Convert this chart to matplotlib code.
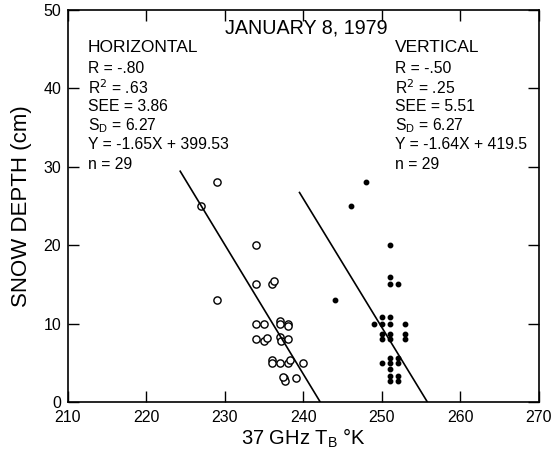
import matplotlib
matplotlib.use("Agg")
import matplotlib.pyplot as plt
import numpy as np

plt.rcParams['font.family'] = ['Liberation Sans', 'DejaVu Sans']

# horizontal polarization (open circles)
h_tb = [229, 227, 234, 234, 236, 236.3, 229,
        234, 235, 237, 237, 238, 238,
        234, 235, 235.3, 237, 237.2, 238,
        236, 236, 237, 238, 238.3, 240,
        237.5, 237.6, 239, 237.4]
h_depth = [28, 25, 20, 15, 15, 15.4, 13,
           10, 10, 10.3, 10, 10, 9.7,
           8, 7.8, 8.2, 8.3, 7.8, 8,
           5.3, 5, 5, 5, 5.3, 5,
           3, 2.7, 3, 3.2]

# vertical polarization (filled dots)
v_tb = [248, 246, 251, 251, 251, 252, 244,
        250, 251, 249, 250, 251, 253,
        250, 251, 253, 250, 251, 253,
        251, 252, 250, 251, 252, 251,
        251, 252, 251, 252]
v_depth = [28, 25, 20, 16, 15, 15, 13,
           10.8, 10.8, 10, 10, 10, 10,
           8.7, 8.7, 8.7, 8, 8, 8,
           5.6, 5.6, 5, 5, 5, 4.2,
           3.3, 3.3, 2.7, 2.7]

# regression fits: slope, intercept, x-range of the drawn line
h_fit = (-1.65, 399.53, 224.3, 242.14)
v_fit = (-1.64, 419.5, 239.5, 255.79)

h_stats = ["R = -.80", "R$^2$ = .63", "SEE = 3.86", "S$_\\mathregular{D}$ = 6.27",
           "Y = -1.65X + 399.53", "n = 29"]
v_stats = ["R = -.50", "R$^2$ = .25", "SEE = 5.51", "S$_\\mathregular{D}$ = 6.27",
           "Y = -1.64X + 419.5", "n = 29"]

fig = plt.figure(figsize=(5.54, 4.61), dpi=100)
ax = fig.add_axes([0.1227, 0.128, 0.850, 0.8503])

ax.plot(h_tb, h_depth, 'o', mfc='white', mec='black', mew=1.0, ms=5.2)
ax.plot(v_tb, v_depth, 'o', color='black', ms=3.2)

for slope, icpt, x0, x1 in (h_fit, v_fit):
    xs = np.array([x0, x1])
    ax.plot(xs, slope * xs + icpt, color='black', lw=1.2)

ax.set_xlim(210, 270)
ax.set_ylim(0, 50)
ax.set_xticks(np.arange(210, 271, 10))
ax.set_yticks(np.arange(0, 51, 10))
ax.tick_params(direction='in', length=8, width=1, top=True, right=True,
               labelsize=11.5, pad=5)
ax.tick_params(axis='x', pad=6)
for s in ax.spines.values():
    s.set_linewidth(1.2)

ax.set_xlabel("37 GHz T$_\\mathregular{B}$ °K", fontsize=14.5, labelpad=1)
ax.set_ylabel("SNOW DEPTH (cm)", fontsize=16, labelpad=8)

ax.text(240.3, 47.7, "JANUARY 8, 1979", fontsize=14.2, ha='center', va='center')
ax.text(212.5, 45.2, "HORIZONTAL", fontsize=12.5, va='center')
ax.text(251.7, 45.2, "VERTICAL", fontsize=12.5, va='center')
for i, (a, b) in enumerate(zip(h_stats, v_stats)):
    y = 42.6 - i * 2.45
    ax.text(212.5, y, a, fontsize=11.3, va='center')
    ax.text(251.7, y, b, fontsize=11.3, va='center')

fig.savefig("out.png", dpi=100)
